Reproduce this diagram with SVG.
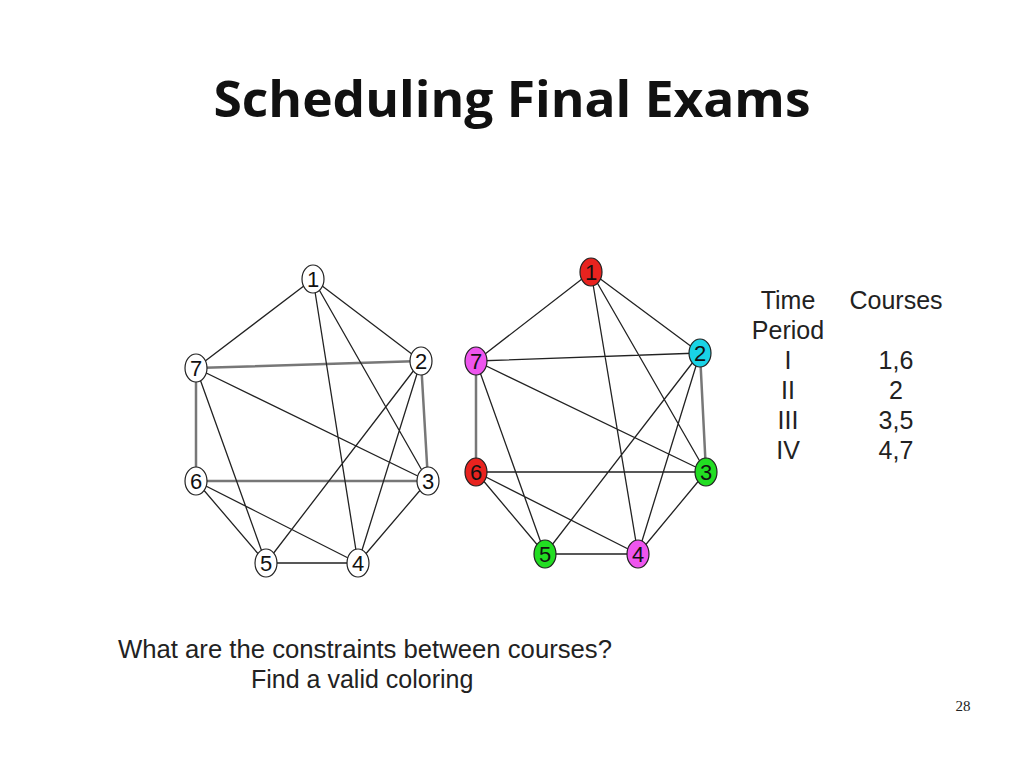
<svg xmlns="http://www.w3.org/2000/svg" width="1024" height="768" viewBox="0 0 1024 768">
<style>
.e{stroke:#222;stroke-width:1.3;fill:none}
.g{stroke:#777;stroke-width:2.5;fill:none}
.n{stroke:#222;stroke-width:1.2}
.t{font-family:"Liberation Sans",Arial,sans-serif;font-size:22px;text-anchor:middle;fill:#111}
.s{font-family:"Liberation Sans",Arial,sans-serif;font-size:25px;fill:#222}
</style>
<rect width="1024" height="768" fill="#fff"/>
<text x="512" y="117" font-family="Open Sans,'Liberation Sans',sans-serif" font-weight="bold" font-size="51" text-anchor="middle" fill="#111" textLength="597" lengthAdjust="spacingAndGlyphs">Scheduling Final Exams</text>
<g id="connectors">
<g id="left-edges">
<path class="g" d="M196,368L421,361M196,368L196,481M196,481L428,481M421,361L428,481"/>
<path class="e" d="M313,279L196,368M313,279L421,361M313,279L358,563M313,279L428,481M196,368L266,563M196,368L428,481M421,361L266,563M421,361L358,563M196,481L266,563M196,481L358,563M266,563L358,563M428,481L358,563"/>
</g>
<g id="right-edges">
<path class="g" d="M476,361L476,472M700,353L706,472"/>
<path class="e" d="M476,361L700,353M476,472L706,472M591,272L476,361M591,272L700,353M591,272L638,554M591,272L706,472M476,361L545,554M476,361L706,472M700,353L545,554M700,353L638,554M476,472L545,554M476,472L638,554M545,554L638,554M706,472L638,554"/>
</g>
</g>
<g id="L1"><ellipse class="n" cx="313" cy="279" rx="11" ry="14" fill="#fff"/><text class="t" x="313" y="287">1</text></g>
<g id="L2"><ellipse class="n" cx="421" cy="361" rx="11" ry="14" fill="#fff"/><text class="t" x="421" y="369">2</text></g>
<g id="L3"><ellipse class="n" cx="428" cy="481" rx="11" ry="14" fill="#fff"/><text class="t" x="428" y="489">3</text></g>
<g id="L4"><ellipse class="n" cx="358" cy="563" rx="11" ry="14" fill="#fff"/><text class="t" x="358" y="571">4</text></g>
<g id="L5"><ellipse class="n" cx="266" cy="563" rx="11" ry="14" fill="#fff"/><text class="t" x="266" y="571">5</text></g>
<g id="L6"><ellipse class="n" cx="196" cy="481" rx="11" ry="14" fill="#fff"/><text class="t" x="196" y="489">6</text></g>
<g id="L7"><ellipse class="n" cx="196" cy="368" rx="11" ry="14" fill="#fff"/><text class="t" x="196" y="376">7</text></g>
<g id="R1"><ellipse class="n" cx="591" cy="272" rx="11" ry="14" fill="#e8231f"/><text class="t" x="591" y="280">1</text></g>
<g id="R2"><ellipse class="n" cx="700" cy="353" rx="11" ry="14" fill="#19d3e6"/><text class="t" x="700" y="361">2</text></g>
<g id="R3"><ellipse class="n" cx="706" cy="472" rx="11" ry="14" fill="#22dd22"/><text class="t" x="706" y="480">3</text></g>
<g id="R4"><ellipse class="n" cx="638" cy="554" rx="11" ry="14" fill="#ee55ee"/><text class="t" x="638" y="562">4</text></g>
<g id="R5"><ellipse class="n" cx="545" cy="554" rx="11" ry="14" fill="#22dd22"/><text class="t" x="545" y="562">5</text></g>
<g id="R6"><ellipse class="n" cx="476" cy="472" rx="11" ry="14" fill="#e8231f"/><text class="t" x="476" y="480">6</text></g>
<g id="R7"><ellipse class="n" cx="476" cy="361" rx="11" ry="14" fill="#ee55ee"/><text class="t" x="476" y="369">7</text></g>
<g id="table" class="s" text-anchor="middle">
<text x="788" y="309">Time</text><text x="896" y="309">Courses</text>
<text x="788" y="339">Period</text>
<text x="788" y="369">I</text><text x="896" y="369">1,6</text>
<text x="788" y="399">II</text><text x="896" y="399">2</text>
<text x="788" y="429">III</text><text x="896" y="429">3,5</text>
<text x="788" y="459">IV</text><text x="896" y="459">4,7</text>
</g>
<text class="s" x="118" y="658" textLength="494" lengthAdjust="spacingAndGlyphs">What are the constraints between courses?</text>
<text class="s" x="251" y="688">Find a valid coloring</text>
<text x="963" y="711" font-family="Liberation Serif,serif" font-size="15" text-anchor="middle" fill="#222">28</text>
</svg>
